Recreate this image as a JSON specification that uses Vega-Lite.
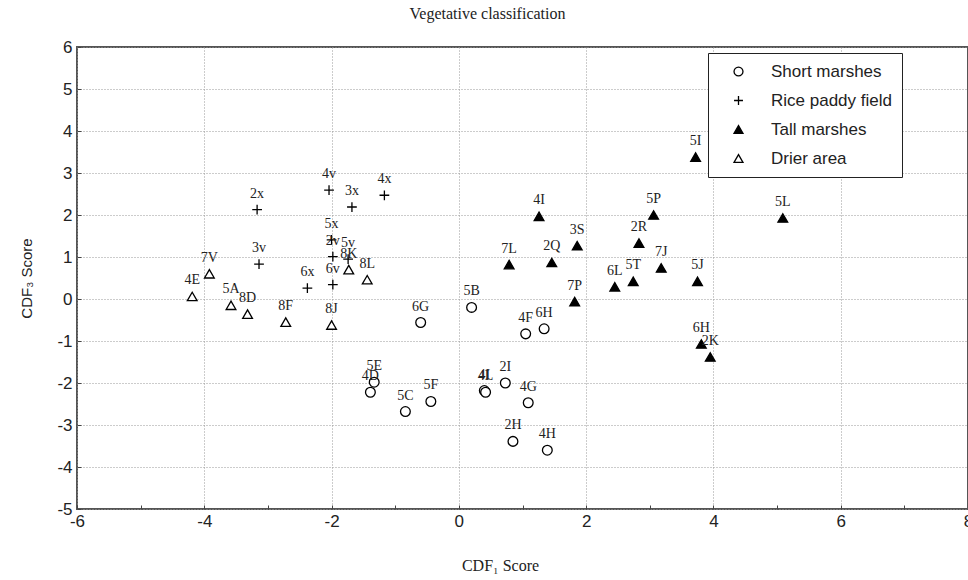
{
  "$schema": "https://vega.github.io/schema/vega-lite/v6.json",
  "width": 891,
  "height": 462,
  "autosize": "none",
  "padding": {"left": 77, "top": 47, "right": 0, "bottom": 71},
  "background": "white",
  "title": {"text": "Vegetative classification", "font": "Liberation Serif", "fontSize": 16, "fontWeight": "normal", "color": "#222", "offset": 16, "dx": -35},
  "config": {
    "view": {"stroke": "#555", "strokeWidth": 2},
    "axis": {"domain": false},
    "legend": {"title": null, "orient": "none", "legendX": 631, "legendY": 6, "strokeColor": "#222", "fillColor": "white", "padding": 10, "labelFont": "Liberation Sans", "labelFontSize": 17, "labelColor": "#222", "symbolStrokeWidth": 1.3, "symbolSize": 80, "symbolOffset": 12, "labelOffset": 24, "rowPadding": 11, "labelLimit": 400}
  },
  "data": {"values": [
    {"id": "6G", "x": -0.6, "y": -0.56, "group": "Short marshes"},
    {"id": "5E", "x": -1.33, "y": -1.98, "group": "Short marshes"},
    {"id": "4D", "x": -1.39, "y": -2.22, "group": "Short marshes"},
    {"id": "5C", "x": -0.84, "y": -2.68, "group": "Short marshes"},
    {"id": "5F", "x": -0.44, "y": -2.44, "group": "Short marshes"},
    {"id": "5B", "x": 0.2, "y": -0.2, "group": "Short marshes"},
    {"id": "4F", "x": 1.05, "y": -0.83, "group": "Short marshes"},
    {"id": "6H", "x": 1.34, "y": -0.71, "group": "Short marshes"},
    {"id": "2I", "x": 0.73, "y": -2.0, "group": "Short marshes"},
    {"id": "4I", "x": 0.4, "y": -2.18, "group": "Short marshes"},
    {"id": "4L", "x": 0.42, "y": -2.22, "group": "Short marshes"},
    {"id": "4G", "x": 1.09, "y": -2.47, "group": "Short marshes"},
    {"id": "2H", "x": 0.85, "y": -3.39, "group": "Short marshes"},
    {"id": "4H", "x": 1.39, "y": -3.6, "group": "Short marshes"},
    {"id": "2x", "x": -3.17, "y": 2.13, "group": "Rice paddy field"},
    {"id": "4v", "x": -2.04, "y": 2.59, "group": "Rice paddy field"},
    {"id": "3x", "x": -1.68, "y": 2.19, "group": "Rice paddy field"},
    {"id": "4x", "x": -1.17, "y": 2.47, "group": "Rice paddy field"},
    {"id": "3v", "x": -3.14, "y": 0.83, "group": "Rice paddy field"},
    {"id": "6x", "x": -2.38, "y": 0.26, "group": "Rice paddy field"},
    {"id": "6v", "x": -1.98, "y": 0.34, "group": "Rice paddy field"},
    {"id": "5x", "x": -2.0, "y": 1.41, "group": "Rice paddy field"},
    {"id": "2v", "x": -1.98, "y": 1.01, "group": "Rice paddy field"},
    {"id": "5v", "x": -1.74, "y": 0.95, "group": "Rice paddy field"},
    {"id": "5I", "x": 3.72, "y": 3.38, "group": "Tall marshes"},
    {"id": "4I", "x": 1.26, "y": 1.97, "group": "Tall marshes"},
    {"id": "5P", "x": 3.06, "y": 2.0, "group": "Tall marshes"},
    {"id": "3S", "x": 1.86, "y": 1.27, "group": "Tall marshes"},
    {"id": "2R", "x": 2.83, "y": 1.33, "group": "Tall marshes"},
    {"id": "7L", "x": 0.79, "y": 0.82, "group": "Tall marshes"},
    {"id": "2Q", "x": 1.46, "y": 0.87, "group": "Tall marshes"},
    {"id": "7J", "x": 3.18, "y": 0.74, "group": "Tall marshes"},
    {"id": "5T", "x": 2.74, "y": 0.42, "group": "Tall marshes"},
    {"id": "6L", "x": 2.45, "y": 0.29, "group": "Tall marshes"},
    {"id": "5J", "x": 3.75, "y": 0.42, "group": "Tall marshes"},
    {"id": "7P", "x": 1.82, "y": -0.06, "group": "Tall marshes"},
    {"id": "5L", "x": 5.09, "y": 1.93, "group": "Tall marshes"},
    {"id": "6H", "x": 3.81, "y": -1.07, "group": "Tall marshes"},
    {"id": "2K", "x": 3.95, "y": -1.38, "group": "Tall marshes"},
    {"id": "7V", "x": -3.92, "y": 0.6, "group": "Drier area"},
    {"id": "4E", "x": -4.19, "y": 0.06, "group": "Drier area"},
    {"id": "5A", "x": -3.58, "y": -0.15, "group": "Drier area"},
    {"id": "8D", "x": -3.32, "y": -0.36, "group": "Drier area"},
    {"id": "8F", "x": -2.72, "y": -0.55, "group": "Drier area"},
    {"id": "8J", "x": -2.0, "y": -0.62, "group": "Drier area"},
    {"id": "8L", "x": -1.44, "y": 0.46, "group": "Drier area"},
    {"id": "8K", "x": -1.73, "y": 0.7, "group": "Drier area"}
  ]},
  "encoding": {
    "x": {"field": "x", "type": "quantitative", "scale": {"domain": [-6, 8], "nice": false, "zero": false},
      "axis": {"values": [-6,-5,-4,-3,-2,-1,0,1,2,3,4,5,6,7,8], "labelExpr": "datum.value % 2 == 0 ? '' + datum.value : ''",
        "title": "CDF₁ Score", "titleFont": "Liberation Serif", "titleFontSize": 16, "titleFontWeight": "normal", "titleColor": "#222", "titlePadding": 28, "titleX": 423,
        "labelFont": "Liberation Sans", "labelFontSize": 17, "labelColor": "#222", "labelPadding": 8,
        "tickColor": "#444", "tickSize": -4, "labelFlush": false,
        "gridColor": "#999", "gridDash": [1, 2], "gridOpacity": {"condition": {"test": "datum.value % 2 != 0", "value": 0}, "value": 1}}},
    "y": {"field": "y", "type": "quantitative", "scale": {"domain": [-5, 6], "nice": false, "zero": false},
      "axis": {"values": [-5,-4,-3,-2,-1,0,1,2,3,4,5,6], "labelExpr": "'' + datum.value", "title": "CDF₃ Score", "titleFont": "Liberation Sans", "titleFontSize": 15, "titleFontWeight": "normal", "titleColor": "#222", "titlePadding": 22,
        "labelFont": "Liberation Sans", "labelFontSize": 17, "labelColor": "#222", "labelPadding": 9, "labelFlush": false,
        "tickColor": "#444", "tickSize": -4,
        "gridColor": "#999", "gridDash": [1, 2]}}
  },
  "layer": [
    {
      "mark": {"type": "point", "strokeWidth": 1.3, "size": 95, "opacity": 1},
      "encoding": {
        "shape": {"field": "group", "type": "nominal",
          "scale": {"domain": ["Short marshes", "Rice paddy field", "Tall marshes", "Drier area"], "range": ["circle", "M-1,0H1M0,-1V1", "triangle-up", "triangle-up"]},
          "legend": {"labelExpr": "datum.label + '\u2003\u2003\u2003'"}},
        "fill": {"field": "group", "type": "nominal",
          "scale": {"domain": ["Short marshes", "Rice paddy field", "Tall marshes", "Drier area"], "range": ["white", "transparent", "black", "white"]},
          "legend": {"labelExpr": "datum.label + '\u2003\u2003\u2003'"}},
        "stroke": {"field": "group", "type": "nominal",
          "scale": {"domain": ["Short marshes", "Rice paddy field", "Tall marshes", "Drier area"], "range": ["black", "black", "black", "black"]},
          "legend": {"labelExpr": "datum.label + '\u2003\u2003\u2003'"}}
      }
    },
    {
      "mark": {"type": "text", "font": "Liberation Serif", "fontSize": 14, "color": "#222", "baseline": "alphabetic", "dy": -12},
      "encoding": {"text": {"field": "id"}}
    }
  ]
}
